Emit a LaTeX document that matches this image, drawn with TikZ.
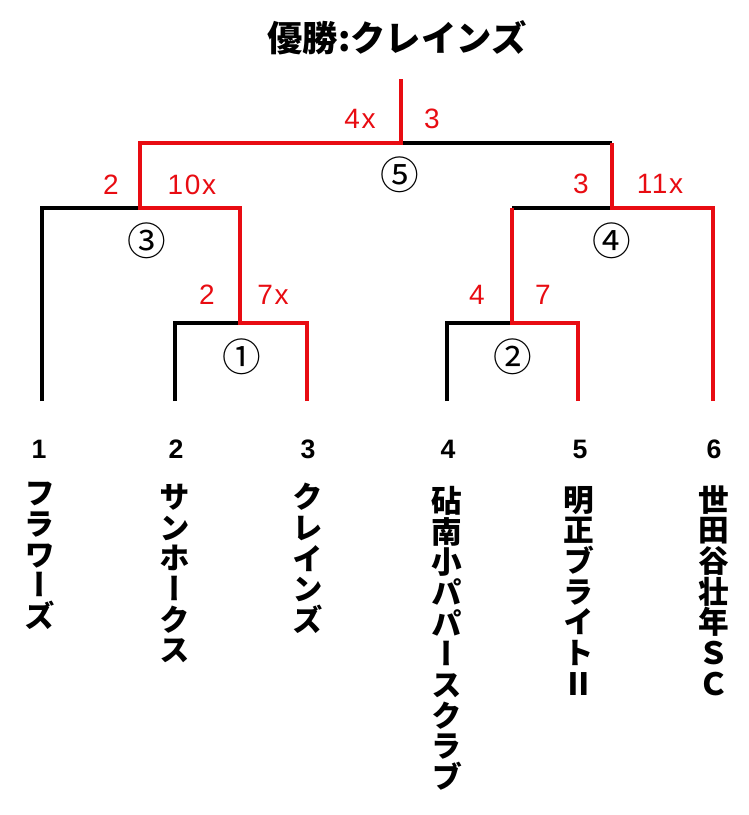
\documentclass[tikz,border=0pt]{standalone}
\usepackage{fontspec}
\setmainfont{Liberation Sans}
\newfontfamily\jpfont{Noto Sans CJK JP}
\newfontfamily\tatefont{Noto Sans CJK JP}[RawFeature=+vert]
\newfontfamily\scorefamily{Liberation Sans}[LetterSpace=6]

\definecolor{winred}{RGB}{232,12,18}

\newcommand\titlefont{\jpfont\bfseries\fontsize{26.5}{26.5}\selectfont}
\newcommand\teamfont{\tatefont\bfseries\fontsize{23}{23}\selectfont}
\newcommand\scorefont{\scorefamily\fontsize{21}{21}\selectfont}
\newcommand\seedfont{\bfseries\fontsize{20}{20}\selectfont}
\newcommand\matchfont{\jpfont\fontsize{29}{29}\selectfont}

\tikzset{
	every node/.style={inner sep=0pt},
	lose/.style={line width=3pt, black},
	win/.style={line width=3pt, winred},
	score/.style={text=winred, font=\scorefont},
	matchno/.style={font=\matchfont},
	seed/.style={font=\seedfont},
	team/.style={anchor=north, align=center, font=\teamfont},
}

\begin{document}
\begin{tikzpicture}[x=0.75pt, y=-0.75pt, line join=miter]
	\useasboundingbox (0,0) rectangle (749,815);

	\node[font=\titlefont] (title) at (397,38) {優勝:クレインズ};

	% bracket points
	\coordinate (top) at (401,79);
	\coordinate (m5) at (401,143);
	\coordinate (m3) at (140,208);
	\coordinate (m4) at (612,208);
	\coordinate (m1) at (240,323);
	\coordinate (m2) at (512,323);
	\foreach \i/\x in {1/42,2/175,3/307,4/447,5/578,6/713}
		\coordinate (l\i) at (\x,401);

	% losers
	\draw[lose] (l2) |- (m1);
	\draw[lose] (l1) |- (m3);
	\draw[lose] (l4) |- (m2);
	\draw[lose] (m2 |- m4) -- (m4);
	\draw[lose] (m4 |- m5) -- (m5);

	% winners
	\draw[win] (l3) |- (m1) |- (m3) |- (m5) -- (top);
	\draw[win] (l5) |- (m2) -- (m2 |- m4);
	\draw[win] (l6) |- (m4) -- (m4 |- m5);

	% scores
	\node[score] (s5a) at (360,119) {4x};
	\node[score] (s5b) at (432,119) {3};
	\node[score] (s3a) at (111,185) {2};
	\node[score] (s3b) at (192,185) {10x};
	\node[score] (s4a) at (581,184) {3};
	\node[score] (s4b) at (660,184) {11x};
	\node[score] (s1a) at (207,295) {2};
	\node[score] (s1b) at (273,295) {7x};
	\node[score] (s2a) at (477,295) {4};
	\node[score] (s2b) at (543,295) {7};

	% match numbers
	\node[matchno] (r1) at (242,357) {①};
	\node[matchno] (r2) at (513,357) {②};
	\node[matchno] (r3) at (147,241) {③};
	\node[matchno] (r4) at (612,241) {④};
	\node[matchno] (r5) at (400,175) {⑤};

	% teams
	\foreach \i/\x in {1/39,2/176,3/308,4/448,5/580,6/714}
		\node[seed] (seed\i) at (\x,449) {\i};
	\node[team] (t1) at (40,482) {フ\\ラ\\ワ\\ー\\ズ};
	\node[team] (t2) at (175,484) {サ\\ン\\ホ\\ー\\ク\\ス};
	\node[team] (t3) at (308,483) {ク\\レ\\イ\\ン\\ズ};
	\node[team] (t4) at (447,486) {砧\\南\\小\\パ\\パ\\ー\\ス\\ク\\ラ\\ブ};
	\node[team] (t5) at (579,486) {明\\正\\ブ\\ラ\\イ\\ト\\Ⅱ};
	\node[team] (t6) at (714,485) {世\\田\\谷\\壮\\年\\Ｓ\\Ｃ};
\end{tikzpicture}
\end{document}
